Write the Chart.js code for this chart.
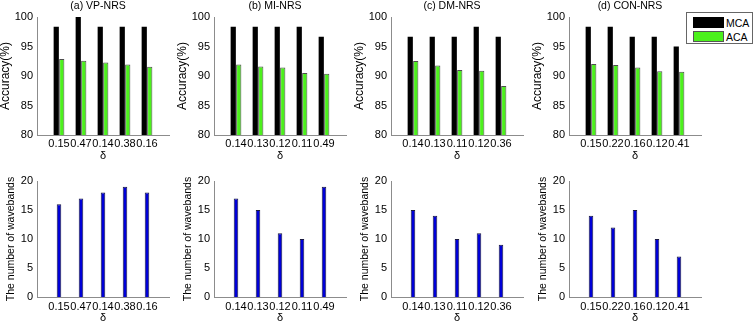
<!DOCTYPE html>
<html>
<head>
<meta charset="utf-8">
<script src="https://cdn.jsdelivr.net/npm/chart.js@4.4.0/dist/chart.umd.min.js"></script>
<style>
  html, body { margin: 0; padding: 0; background: #fff; }
  #fig { position: relative; width: 756px; height: 324px; overflow: hidden; font-family: "Liberation Sans", Arial, sans-serif; }
  #fig canvas { position: absolute; }
  .legend { position: absolute; left: 686px; top: 12px; width: 65px; height: 30px; border: 1px solid #666; background: #fff; font-size: 10.5px; color: #000; }
  .legend .sw { position: absolute; left: 6px; width: 31px; height: 11px; box-sizing: border-box; }
  .legend .tx { position: absolute; left: 39px; height: 12px; line-height: 12px; }
</style>
</head>
<body>
<div id="fig">
  <div class="legend">
    <div class="sw" style="top:4px; background:#000;"></div>
    <div class="tx" style="top:4px;">MCA</div>
    <div class="sw" style="top:18px; background:#4cf01c; border:1px solid #555;"></div>
    <div class="tx" style="top:18px;">ACA</div>
  </div>
</div>
<script>
// panel data
const panelTitles = ['(a) VP-NRS', '(b) MI-NRS', '(c) DM-NRS', '(d) CON-NRS'];
const deltaLabels = [
  ['0.15', '0.47', '0.14', '0.38', '0.16'],
  ['0.14', '0.13', '0.12', '0.11', '0.49'],
  ['0.14', '0.13', '0.11', '0.12', '0.36'],
  ['0.15', '0.22', '0.16', '0.12', '0.41']
];
const mcaValues = [
  [98.33, 100, 98.33, 98.33, 98.33],
  [98.33, 98.33, 98.33, 98.33, 96.67],
  [96.67, 96.67, 96.67, 98.33, 96.67],
  [98.33, 98.33, 96.67, 96.67, 95.0]
];
const acaValues = [
  [92.9, 92.6, 92.3, 91.95, 91.55],
  [91.95, 91.6, 91.45, 90.5, 90.4],
  [92.55, 91.8, 91.0, 90.9, 88.3],
  [92.05, 91.85, 91.45, 90.8, 90.7]
];
const wavebandCounts = [
  [16, 17, 18, 19, 18],
  [17, 15, 11, 10, 19],
  [15, 14, 10, 11, 9],
  [14, 12, 15, 10, 7]
];

const axisLefts = [37, 214, 391, 569];
const AXIS_GRAY = '#8c8c8c';

Chart.defaults.font.family = '"Liberation Sans", Arial, sans-serif';
Chart.defaults.font.size = 11;
Chart.defaults.color = '#000';

// title drawn a bit left of the plot centre, like the figure
const panelTitle = {
  id: 'panelTitle',
  afterDraw(chart, args, opts) {
    if (!opts.text) return;
    const {ctx, chartArea} = chart;
    ctx.save();
    ctx.font = '10.5px "Liberation Sans", Arial, sans-serif';
    ctx.fillStyle = '#000';
    ctx.textAlign = 'center';
    ctx.textBaseline = 'middle';
    ctx.fillText(opts.text, (chartArea.left + chartArea.right) / 2 - 5, 6);
    ctx.restore();
  }
};

function toPoints(values) {
  return values.map((v, k) => ({x: k + 1, y: v}));
}

function xScale(labels, pad) {
  return {
    type: 'linear', min: 0, max: 6, offset: false,
    grid: {display: false, drawTicks: false},
    border: {display: true, color: AXIS_GRAY},
    ticks: {autoSkip: false, maxRotation: 0, padding: pad, callback: v => labels[v - 1] ?? ''},
    afterBuildTicks: s => { s.ticks = labels.map((_, k) => ({value: k + 1})); },
    afterFit: s => { s.height = 27; },
    title: {display: true, text: 'δ', font: {size: 11, lineHeight: 1}, padding: {top: 0, bottom: 1}}
  };
}

function yScale(min, max, label, size, titlePad) {
  return {
    min: min, max: max,
    grid: {display: false, drawTicks: false},
    border: {display: true, color: AXIS_GRAY},
    ticks: {stepSize: 5, padding: 4},
    afterFit: s => { s.width = 37; },
    title: {display: true, text: label, font: {size: size, lineHeight: 1}, padding: {top: titlePad, bottom: 0}}
  };
}

function addCanvas(left, top) {
  const c = document.createElement('canvas');
  c.width = 177;
  c.height = 162;
  c.style.left = left + 'px';
  c.style.top = top + 'px';
  c.style.width = '177px';
  c.style.height = '162px';
  document.getElementById('fig').appendChild(c);
  return c;
}

function baseOptions(padTop, title) {
  return {
    responsive: false,
    animation: false,
    devicePixelRatio: 1,
    layout: {padding: {top: padTop, right: 8, bottom: 0, left: 0}},
    plugins: {legend: {display: false}, tooltip: {enabled: false}, panelTitle: {text: title}}
  };
}

for (let i = 0; i < 4; i++) {
  const left = axisLefts[i] - 37;

  const accOpts = baseOptions(17, panelTitles[i]);
  accOpts.scales = {x: xScale(deltaLabels[i], 2), y: yScale(80, 100, 'Accuracy(%)', 12, 0)};
  new Chart(addCanvas(left, 0), {
    type: 'bar',
    data: {
      datasets: [
        {label: 'MCA', data: toPoints(mcaValues[i]), backgroundColor: '#000', borderWidth: 0,
         categoryPercentage: 0.5, barPercentage: 0.95},
        {label: 'ACA', data: toPoints(acaValues[i]), backgroundColor: '#4cf01c', borderColor: '#4d4d4d', borderWidth: 1,
         categoryPercentage: 0.5, barPercentage: 0.95}
      ]
    },
    options: accOpts,
    plugins: [panelTitle]
  });

  const bandOpts = baseOptions(19, '');
  bandOpts.scales = {x: xScale(deltaLabels[i], 3), y: yScale(0, 20, 'The number of wavebands', 10.5, 6)};
  new Chart(addCanvas(left, 162), {
    type: 'bar',
    data: {
      datasets: [
        {label: 'wavebands', data: toPoints(wavebandCounts[i]), backgroundColor: '#0000d8', borderColor: '#1a1a40', borderWidth: 1,
         categoryPercentage: 0.23, barPercentage: 0.9}
      ]
    },
    options: bandOpts,
    plugins: [panelTitle]
  });
}
</script>
</body>
</html>
